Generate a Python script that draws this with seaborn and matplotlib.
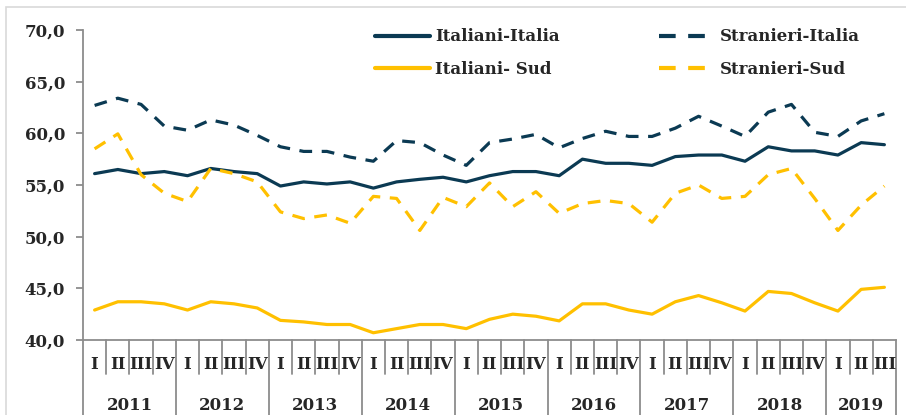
import numpy as np
import pandas as pd
import seaborn as sns
import matplotlib.pyplot as plt
from matplotlib.patches import Rectangle

# quarterly rates, 2011 Q1 -> 2019 Q3
years = ['2011', '2012', '2013', '2014', '2015', '2016', '2017', '2018', '2019']
quarters = ['I', 'II', 'III', 'IV']

italiani_italia = [56.1, 56.5, 56.1, 56.3, 55.9, 56.6, 56.3, 56.1,
                   54.9, 55.3, 55.1, 55.3, 54.7, 55.3, 55.55, 55.75,
                   55.3, 55.9, 56.3, 56.3, 55.9, 57.5, 57.1, 57.1,
                   56.9, 57.75, 57.9, 57.9, 57.3, 58.7, 58.3, 58.3,
                   57.9, 59.1, 58.9]
stranieri_italia = [62.7, 63.4, 62.8, 60.7, 60.3, 61.3, 60.8, 59.8,
                    58.7, 58.25, 58.25, 57.7, 57.3, 59.3, 59.1, 57.9,
                    56.9, 59.1, 59.45, 59.9, 58.6, 59.5, 60.2, 59.7,
                    59.7, 60.5, 61.65, 60.7, 59.7, 62.05, 62.8, 60.1,
                    59.7, 61.2, 61.9]
italiani_sud = [42.9, 43.7, 43.7, 43.5, 42.9, 43.7, 43.5, 43.1,
                41.9, 41.75, 41.5, 41.5, 40.7, 41.1, 41.5, 41.5,
                41.1, 42.0, 42.5, 42.3, 41.85, 43.5, 43.5, 42.9,
                42.5, 43.7, 44.3, 43.6, 42.8, 44.7, 44.5, 43.6,
                42.8, 44.9, 45.1]
stranieri_sud = [58.5, 59.95, 56.0, 54.2, 53.4, 56.6, 56.1, 55.3,
                 52.4, 51.75, 52.1, 51.3, 53.9, 53.7, 50.6, 53.8,
                 52.9, 55.2, 52.9, 54.35, 52.25, 53.2, 53.5, 53.2,
                 51.4, 54.2, 55.0, 53.7, 53.9, 56.0, 56.6, 53.7,
                 50.6, 53.05, 54.9]

series = {
    'Italiani-Italia': italiani_italia,
    'Italiani- Sud': italiani_sud,
    'Stranieri-Italia': stranieri_italia,
    'Stranieri-Sud': stranieri_sud,
}
n = len(italiani_italia)
df = pd.concat([pd.DataFrame({'t': np.arange(n), 'val': v, 'serie': k})
                for k, v in series.items()])

navy = '#0b3a53'
gold = '#ffc000'
palette = {'Italiani-Italia': navy, 'Italiani- Sud': gold,
           'Stranieri-Italia': navy, 'Stranieri-Sud': gold}
dashes = {'Italiani-Italia': '', 'Italiani- Sud': '',
          'Stranieri-Italia': (4, 3), 'Stranieri-Sud': (4, 3)}

sns.set_theme(style='white')
plt.rcParams['font.family'] = ['DejaVu Serif']
plt.rcParams['font.weight'] = 'bold'

fig = plt.figure(figsize=(9.06, 4.15), dpi=100)
ax = fig.add_axes([83 / 906, 1 - 340 / 415, 813 / 906, 310 / 415])
fig.add_artist(Rectangle((6 / 906, -0.1), 1.2, 1.1 - 7 / 415, transform=fig.transFigure,
                         fill=False, edgecolor='#d9d9d9', linewidth=1.2))

sns.lineplot(data=df, x='t', y='val', hue='serie', style='serie',
             palette=palette, dashes=dashes, linewidth=2.3, ax=ax,
             hue_order=list(series.keys()), style_order=list(series.keys()))

ax.set_xlim(-0.5, n - 0.5)
ax.set_ylim(40, 70)
ax.set_yticks(np.arange(40, 71, 5))
ax.set_yticklabels([f'{v:.1f}'.replace('.', ',') for v in np.arange(40, 71, 5)],
                   fontsize=12, fontweight='bold')
ax.set_xticks([])
ax.set_xlabel('')
ax.set_ylabel('')
for s in ['top', 'right']:
    ax.spines[s].set_visible(False)
for s in ['left', 'bottom']:
    ax.spines[s].set_color('#8c8c8c')
    ax.spines[s].set_linewidth(1.3)
ax.tick_params(axis='y', left=True, length=5, width=1.3, color='#8c8c8c', pad=8)

# two-level category axis
trans = ax.get_xaxis_transform()
for i in range(n + 1):
    x = i - 0.5
    bottom = -0.245 if (i % 4 == 0 or i == n) else -0.11
    ax.plot([x, x], [0, bottom], transform=trans, color='#8c8c8c', lw=1.3, clip_on=False)
for i in range(n):
    ax.text(i, -0.08, quarters[i % 4], transform=trans, ha='center', va='center',
            fontsize=12, fontweight='bold')
for j, y in enumerate(years):
    start = j * 4
    end = min(start + 3, n - 1)
    ax.text((start + end) / 2, -0.21, y, transform=trans, ha='center', va='center',
            fontsize=12, fontweight='bold')

handles, labels = ax.get_legend_handles_labels()
leg = ax.legend(handles, labels, ncol=2, loc='upper left', bbox_to_anchor=(0.359, 1.005),
                frameon=False, handlelength=3.3, handletextpad=0.3, columnspacing=6.0,
                labelspacing=0.95, borderpad=0, borderaxespad=0,
                prop={'weight': 'bold', 'size': 12})
for h in leg.get_lines():
    h.set_linewidth(3)

fig.savefig('out.png', dpi=100)
